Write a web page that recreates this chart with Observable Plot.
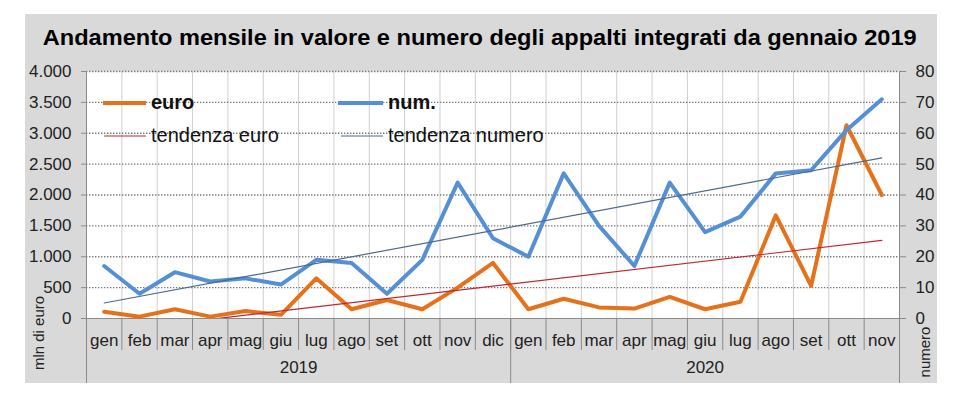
<!DOCTYPE html>
<html>
<head>
<meta charset="utf-8">
<script src="https://cdn.jsdelivr.net/npm/d3@7"></script>
<script src="https://cdn.jsdelivr.net/npm/@observablehq/plot@0.6"></script>
<style>
  body { margin:0; width:963px; height:393px; position:relative; overflow:hidden; background:#fff;
         font-family:"Liberation Sans", Arial, sans-serif; }
  #bg { position:absolute; left:25px; top:14px; width:912px; height:369px; background:#d9d9d9; }
  #chart { position:absolute; left:0; top:0; }
  #title { position:absolute; left:0; top:27px; width:960px; text-align:center; white-space:nowrap;
           font-weight:bold; font-size:22px; line-height:22px; color:#000; }
  #title span { display:inline-block; transform-origin:50% 50%; }
</style>
</head>
<body>
<div id="bg"></div>
<div id="chart"></div>
<div id="title"><span>Andamento mensile in valore e numero degli appalti integrati da gennaio 2019</span></div>
<script>
// ---- data ----
const months = ["gen","feb","mar","apr","mag","giu","lug","ago","set","ott","nov","dic",
                "gen","feb","mar","apr","mag","giu","lug","ago","set","ott","nov"];
const years = ["2019", "2020"];
const yearFirst = [0, 12];
const yearLast = [11, 22];
const euro = [110, 30, 150, 30, 120, 60, 650, 150, 300, 150, 500, 900,
              150, 320, 180, 160, 350, 150, 270, 1670, 530, 3130, 2000];
const num = [17, 8, 15, 12, 13, 11, 19, 18, 8, 19, 44, 26,
             20, 47, 30, 17, 44, 28, 33, 47, 48, 61, 71];
const euroTicks = [0, 500, 1000, 1500, 2000, 2500, 3000, 3500, 4000];
const numTicks = [0, 10, 20, 30, 40, 50, 60, 70, 80];
const legendLabels = ["euro", "tendenza euro", "num.", "tendenza numero"];

// ---- styles ----
const ORANGE = "#e6711b", BLUE = "#5590d6", RED = "#c0282e", SLATE = "#4d6a8c";
const K = euroTicks[euroTicks.length - 1] / numTicks[numTicks.length - 1];

const data = months.map((m, i) => ({ i, m, euro: euro[i], num: num[i] * K }));
const bounds = d3.range(months.length + 1).map(i => i - 0.5);
const inner = bounds.slice(1, -1);
const fmtIt = d3.formatLocale({ decimal: ",", thousands: ".", grouping: [3], currency: ["", ""] }).format(",");

const plot = Plot.plot({
  width: 963, height: 393,
  marginLeft: 86, marginRight: 64, marginTop: 71, marginBottom: 75,
  style: { background: "transparent", fontFamily: "'Liberation Sans', Arial, sans-serif", fontSize: "17px", color: "#222", overflow: "visible" },
  x: { type: "linear", domain: [bounds[0], bounds[bounds.length - 1]], axis: null, label: null },
  y: { domain: [0, euroTicks[euroTicks.length - 1]], axis: null, label: null },
  marks: [
    Plot.frame({ fill: "white", stroke: null }),
    Plot.ruleX(inner, { stroke: "#cfcfcf", strokeWidth: 1 }),
    Plot.ruleY(euroTicks.slice(1), { stroke: "#7a7a7a", strokeWidth: 1.3, strokeDasharray: "1.4,1.6" }),
    Plot.axisY(euroTicks, { anchor: "left", label: null, tickSize: 5, tickFormat: () => "", color: "#8a8a8a" }),
    Plot.axisY(euroTicks, { anchor: "left", label: null, tickSize: 0, tickPadding: 15, tickFormat: fmtIt, fontSize: 17, color: "#222" }),
    Plot.axisY(numTicks.map(v => v * K), { anchor: "right", label: null, tickSize: 6, tickFormat: () => "", color: "#8a8a8a" }),
    Plot.axisY(numTicks.map(v => v * K), { anchor: "right", label: null, tickSize: 0, tickPadding: 16, tickFormat: d => String(d / K), fontSize: 17, color: "#222" }),
    Plot.ruleY([0], { stroke: "#8a8a8a" }),
    Plot.axisX(inner, { anchor: "bottom", label: null, tickSize: 32, tickFormat: () => "", color: "#8a8a8a" }),
    Plot.axisX([bounds[0], (yearLast[0] + yearFirst[1]) / 2, bounds[bounds.length - 1]], { anchor: "bottom", label: null, tickSize: 65, tickFormat: () => "", color: "#8a8a8a" }),
    Plot.ruleX([bounds[0], bounds[bounds.length - 1]], { stroke: "#8a8a8a" }),
    Plot.axisX(d3.range(months.length), { anchor: "bottom", label: null, tickSize: 0, tickPadding: 15, tickFormat: i => months[i], fontSize: 17, color: "#222" }),
    Plot.text(years, { x: (d, i) => (yearFirst[i] + yearLast[i]) / 2, frameAnchor: "bottom", dy: 54, fontSize: 17, fill: "#222" }),
    Plot.line(data, { x: "i", y: "euro", stroke: ORANGE, strokeWidth: 4, strokeLinejoin: "round" }),
    Plot.line(data, { x: "i", y: "num", stroke: BLUE, strokeWidth: 4, strokeLinejoin: "round" }),
    Plot.linearRegressionY(data, { x: "i", y: "euro", stroke: RED, strokeWidth: 1.2, ci: 0, clip: true }),
    Plot.linearRegressionY(data, { x: "i", y: "num", stroke: SLATE, strokeWidth: 1.2, ci: 0 }),
    Plot.text(["mln di euro"], { frameAnchor: "left", textAnchor: "middle", rotate: -90, dx: -47, dy: 138, fontSize: 15, fill: "#222" }),
    Plot.text(["numero"], { frameAnchor: "right", textAnchor: "middle", rotate: -90, dx: 26, dy: 157, fontSize: 15, fill: "#222" })
  ]
});
document.getElementById("chart").appendChild(plot);

// ---- legend (inside the plot area, top-left) ----
const svg = d3.select(plot);
const leg = svg.append("g")
  .attr("font-family", "'Liberation Sans', Arial, sans-serif")
  .attr("font-size", 20).attr("fill", "#111").attr("text-anchor", "start");
const items = [
  { label: legendLabels[0], x1: 103, x2: 146, y: 103, stroke: ORANGE, w: 4, bold: true },
  { label: legendLabels[1], x1: 104, x2: 146, y: 136, stroke: RED, w: 1.2, bold: false },
  { label: legendLabels[2], x1: 338, x2: 383, y: 103, stroke: BLUE, w: 4, bold: true },
  { label: legendLabels[3], x1: 341, x2: 383, y: 136, stroke: SLATE, w: 1.2, bold: false }
];
items.forEach(it => {
  leg.append("line").attr("x1", it.x1).attr("x2", it.x2).attr("y1", it.y).attr("y2", it.y)
     .attr("stroke", it.stroke).attr("stroke-width", it.w);
  leg.append("text").attr("x", it.x2 + 5).attr("y", it.y + 5.5)
     .attr("font-weight", it.bold ? "bold" : "normal").text(it.label);
});

// ---- title fit ----
const span = document.querySelector("#title span");
const w = span.getBoundingClientRect().width;
span.style.transform = `scaleX(${874 / w})`;
</script>
</body>
</html>
